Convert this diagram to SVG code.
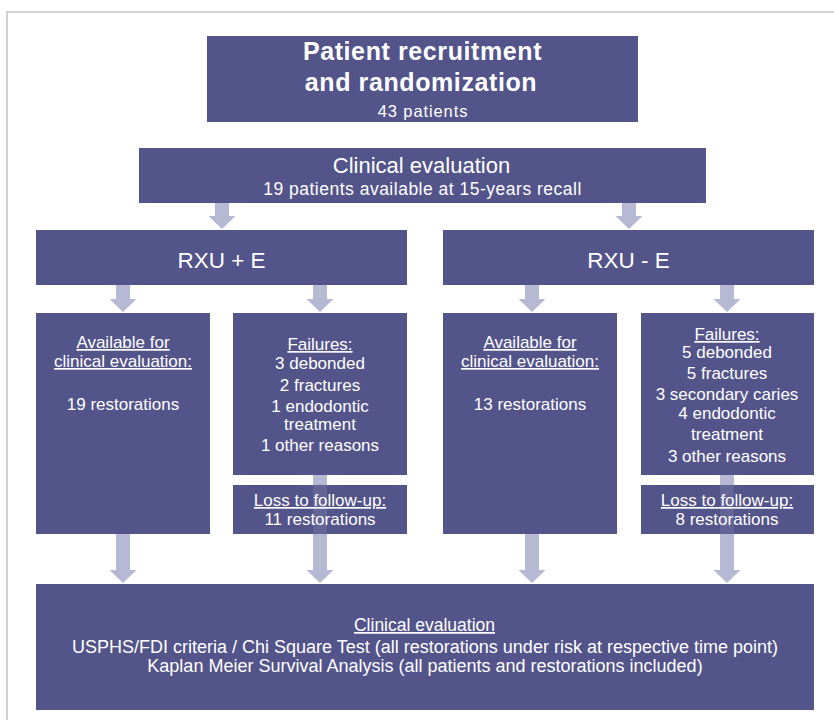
<svg xmlns="http://www.w3.org/2000/svg" width="834" height="720" viewBox="0 0 834 720">
<defs>
<style>
.box{fill:#52548a;}
.t{font-family:"Liberation Sans",Arial,sans-serif;fill:#ffffff;text-anchor:middle;}
.u{text-decoration:underline;}
.arr{fill:#b6b9d4;}
.shade{fill:#b6b9d4;fill-opacity:0.18;}
</style>
<path id="ahead" d="M-13.5,0 L13.5,0 L0,13 Z"/>
</defs>
<rect width="834" height="720" fill="#ffffff"/>
<path d="M7,720 V12 H834" fill="none" stroke="#c4c4c4" stroke-width="1.5"/>

<g id="connectors" class="arr">
<rect x="215" y="203" width="14" height="13"/><use href="#ahead" x="222" y="216"/>
<rect x="622" y="203" width="14" height="13"/><use href="#ahead" x="629" y="216"/>
<rect x="116" y="285" width="14" height="14"/><use href="#ahead" x="123" y="299"/>
<rect x="313" y="285" width="14" height="14"/><use href="#ahead" x="320" y="299"/>
<rect x="525" y="285" width="14" height="14"/><use href="#ahead" x="532" y="299"/>
<rect x="720" y="285" width="14" height="14"/><use href="#ahead" x="727" y="299"/>
<rect x="116" y="534" width="14" height="36"/><use href="#ahead" x="123" y="570"/>
<rect x="313" y="475" width="14" height="95"/><use href="#ahead" x="320" y="570"/>
<rect x="525" y="534" width="14" height="36"/><use href="#ahead" x="532" y="570"/>
<rect x="720" y="475" width="14" height="95"/><use href="#ahead" x="727" y="570"/>
</g>

<g id="recruitment">
<rect class="box" x="207" y="36" width="431" height="86"/>
<text class="t" x="422.5" y="60" font-size="25" font-weight="bold" letter-spacing="0.6">Patient recruitment</text>
<text class="t" x="421" y="91" font-size="25" font-weight="bold" letter-spacing="0.6">and randomization</text>
<text class="t" x="423" y="117" font-size="16.5" letter-spacing="0.9">43 patients</text>
</g>

<g id="clinical-eval-top">
<rect class="box" x="139" y="148" width="567" height="55"/>
<text class="t" x="421.5" y="173" font-size="22">Clinical evaluation</text>
<text class="t" x="422.5" y="195" font-size="17.5" letter-spacing="0.5">19 patients available at 15-years recall</text>
</g>

<g id="rxu-plus-e">
<rect class="box" x="36" y="230" width="371" height="55"/>
<text class="t" x="221.5" y="268" font-size="22.5">RXU + E</text>
</g>

<g id="rxu-minus-e">
<rect class="box" x="443" y="230" width="371" height="55"/>
<text class="t" x="628.5" y="268" font-size="22.5">RXU - E</text>
</g>

<g id="available-left">
<rect class="box" x="36" y="313" width="174" height="221"/>
<text class="t u" x="123" y="348" font-size="17">Available for</text>
<text class="t u" x="123" y="367" font-size="17">clinical evaluation:</text>
<text class="t" x="123" y="410" font-size="17">19 restorations</text>
</g>

<g id="failures-left">
<rect class="box" x="233" y="313" width="174" height="162"/>
<text class="t u" x="320" y="350" font-size="17">Failures:</text>
<text class="t" x="320" y="369" font-size="17">3 debonded</text>
<text class="t" x="320" y="391" font-size="17">2 fractures</text>
<text class="t" x="320" y="412" font-size="17">1 endodontic</text>
<text class="t" x="320" y="430" font-size="17">treatment</text>
<text class="t" x="320" y="451" font-size="17">1 other reasons</text>
</g>

<g id="loss-left">
<rect class="box" x="233" y="485" width="174" height="49"/>
<rect class="shade" x="313" y="485" width="14" height="49"/>
<text class="t u" x="320" y="506" font-size="17">Loss to follow-up:</text>
<text class="t" x="320" y="525" font-size="17">11 restorations</text>
</g>

<g id="available-right">
<rect class="box" x="443" y="313" width="174" height="221"/>
<text class="t u" x="530" y="348" font-size="17">Available for</text>
<text class="t u" x="530" y="367" font-size="17">clinical evaluation:</text>
<text class="t" x="530" y="410" font-size="17">13 restorations</text>
</g>

<g id="failures-right">
<rect class="box" x="641" y="313" width="173" height="162"/>
<text class="t u" x="727" y="340" font-size="17">Failures:</text>
<text class="t" x="727" y="358" font-size="17">5 debonded</text>
<text class="t" x="727" y="379" font-size="17">5 fractures</text>
<text class="t" x="727" y="400" font-size="17">3 secondary caries</text>
<text class="t" x="727" y="419" font-size="17">4 endodontic</text>
<text class="t" x="727" y="440" font-size="17">treatment</text>
<text class="t" x="727" y="462" font-size="17">3 other reasons</text>
</g>

<g id="loss-right">
<rect class="box" x="641" y="485" width="173" height="49"/>
<rect class="shade" x="720" y="485" width="14" height="49"/>
<text class="t u" x="727" y="506" font-size="17">Loss to follow-up:</text>
<text class="t" x="727" y="525" font-size="17">8 restorations</text>
</g>

<g id="clinical-eval-bottom">
<rect class="box" x="36" y="584" width="778" height="126"/>
<text class="t u" x="424.5" y="631" font-size="17.5">Clinical evaluation</text>
<text class="t" x="425" y="653" font-size="18">USPHS/FDI criteria / Chi Square Test (all restorations under risk at respective time point)</text>
<text class="t" x="425" y="672" font-size="18">Kaplan Meier Survival Analysis (all patients and restorations included)</text>
</g>
</svg>
